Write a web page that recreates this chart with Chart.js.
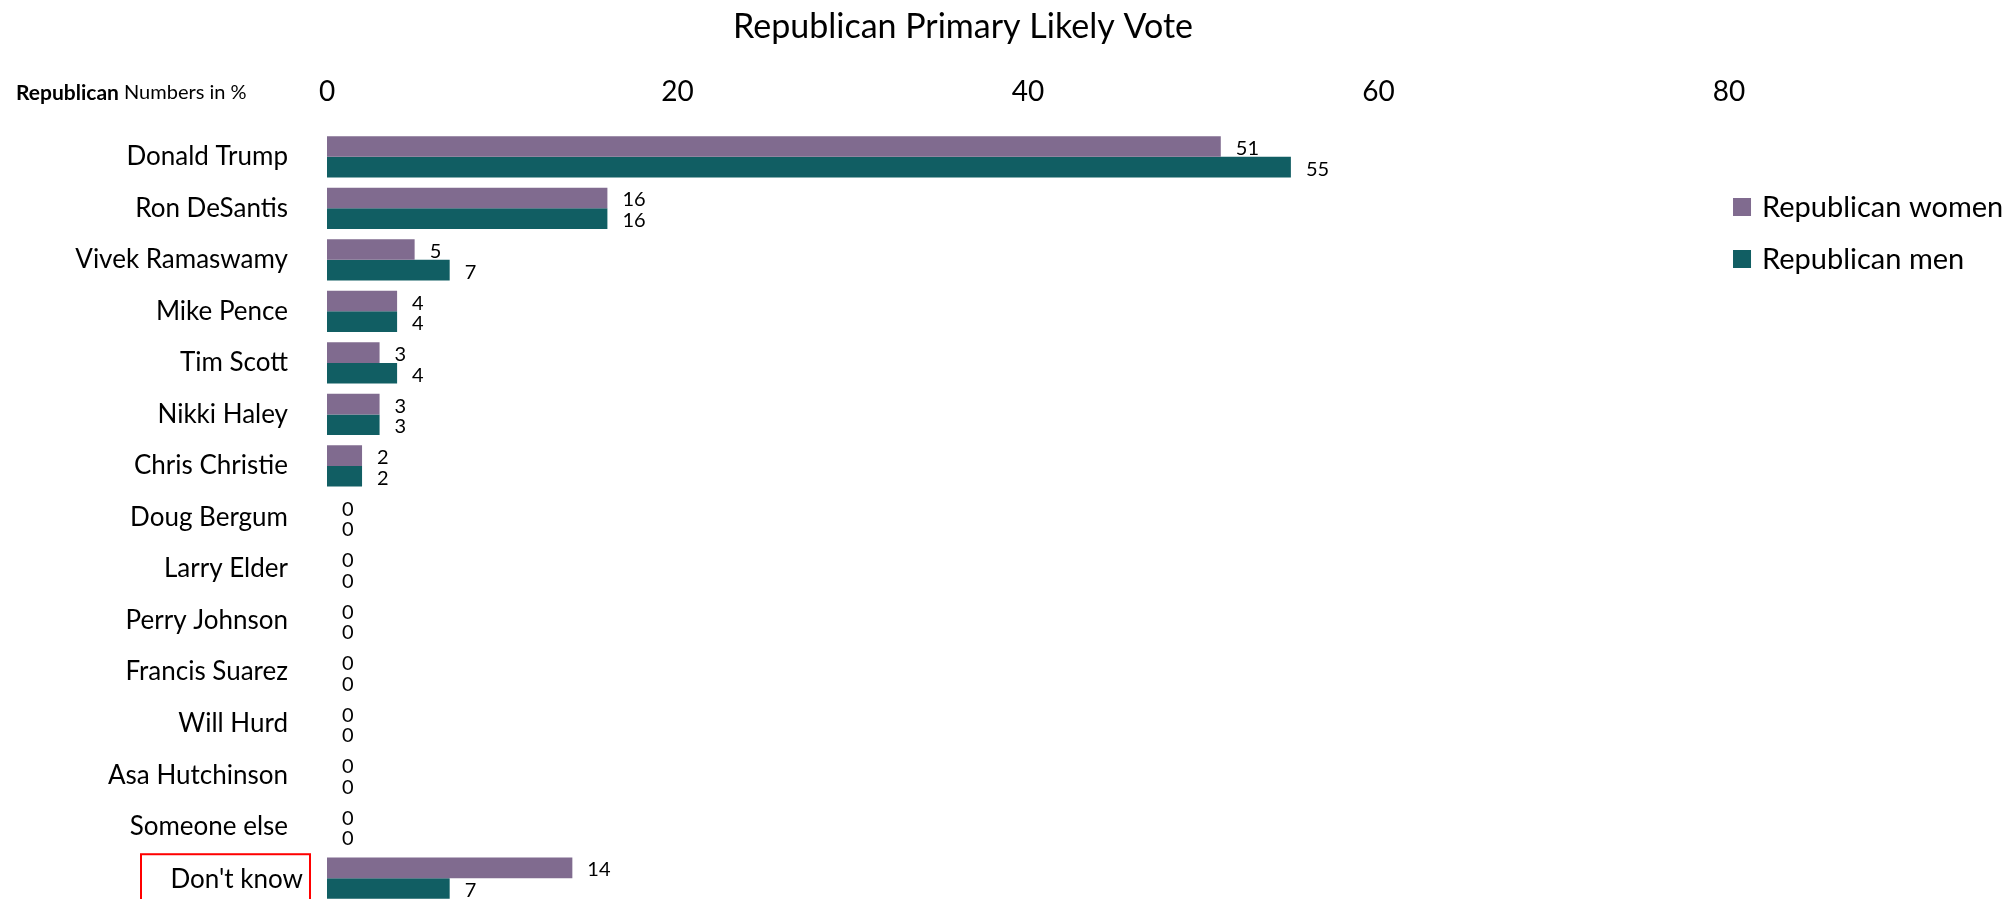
<!DOCTYPE html>
<html>
<head>
<meta charset="utf-8">
<script src="https://cdn.jsdelivr.net/npm/chart.js@4.4.0/dist/chart.umd.min.js"></script>
<style>
  html, body { margin: 0; padding: 0; background: #ffffff; overflow: hidden; }
  #wrap { width: 2014px; height: 904px; }
</style>
</head>
<body>
<div id="wrap"><canvas id="c" width="2014" height="904"></canvas></div>
<script>
const chartTitle = 'Republican Primary Likely Vote';
const categories = ['Donald Trump', 'Ron DeSantis', 'Vivek Ramaswamy', 'Mike Pence', 'Tim Scott', 'Nikki Haley', 'Chris Christie', 'Doug Bergum', 'Larry Elder', 'Perry Johnson', 'Francis Suarez', 'Will Hurd', 'Asa Hutchinson', 'Someone else', "Don't know"];
const seriesNames = ['Republican women', 'Republican men'];
const womenValues = [51, 16, 5, 4, 3, 3, 2, 0, 0, 0, 0, 0, 0, 0, 14];
const menValues = [55, 16, 7, 4, 4, 3, 2, 0, 0, 0, 0, 0, 0, 0, 7];
const xTicks = [0, 20, 40, 60, 80];
const highlighted = "Don't know";
const cornerBold = 'Republican';
const cornerRest = ' Numbers in %';

const colors = ['#806b8f', '#115e63'];
const FONT = 'Lato, Carlito, Calibri, "Noto Sans", sans-serif';
const lastTick = xTicks[xTicks.length - 1];

const extras = {
  id: 'extras',
  afterDatasetsDraw(chart) {
    const ctx = chart.ctx;
    ctx.save();
    // value labels
    ctx.font = '20px ' + FONT;
    ctx.fillStyle = '#000';
    ctx.textAlign = 'left';
    ctx.textBaseline = 'middle';
    chart.data.datasets.forEach((ds, di) => {
      const meta = chart.getDatasetMeta(di);
      meta.data.forEach((el, i) => {
        ctx.fillText(String(ds.data[i]), el.x + 15, el.y + 2);
      });
    });
    const ca = chart.chartArea;
    // corner label
    ctx.font = 'bold 21px ' + FONT;
    ctx.fillText(cornerBold, 16, 93);
    const w = ctx.measureText(cornerBold).width;
    ctx.font = '20px ' + FONT;
    ctx.fillText(cornerRest, 16 + w, 93);
    // highlighted category label + box
    const yScale = chart.scales.y;
    const idx = categories.indexOf(highlighted);
    const yc = yScale.getPixelForValue(idx);
    ctx.font = '26px ' + FONT;
    ctx.textAlign = 'right';
    ctx.fillText(highlighted, ca.left - 24, yc + 1);
    ctx.strokeStyle = '#ff0000';
    ctx.lineWidth = 2;
    ctx.strokeRect(ca.left - 186, yc - 24, 169, 80);
    // legend
    const xEnd = chart.scales.x.getPixelForValue(lastTick);
    ctx.textAlign = 'left';
    ctx.font = '29px ' + FONT;
    const ly = [207, 259];
    seriesNames.forEach((n, i) => {
      ctx.fillStyle = colors[i];
      ctx.fillRect(xEnd + 4, ly[i] - 9, 18, 18);
      ctx.fillStyle = '#000';
      ctx.fillText(n, xEnd + 33, ly[i] + 1);
    });
    ctx.restore();
  }
};

new Chart(document.getElementById('c'), {
  type: 'bar',
  data: {
    labels: categories,
    datasets: [
      { label: seriesNames[0], data: womenValues, backgroundColor: colors[0], borderWidth: 0, categoryPercentage: 0.8, barPercentage: 1.0 },
      { label: seriesNames[1], data: menValues, backgroundColor: colors[1], borderWidth: 0, categoryPercentage: 0.8, barPercentage: 1.0 }
    ]
  },
  options: {
    indexAxis: 'y',
    responsive: false,
    animation: false,
    layout: { padding: { left: 0, top: 0, bottom: 0, right: 88 } },
    plugins: {
      legend: { display: false },
      tooltip: { enabled: false },
      title: {
        display: true,
        text: chartTitle,
        color: '#000',
        font: { family: FONT, size: 34, weight: 'normal' },
        padding: { top: 7, bottom: 0 }
      }
    },
    scales: {
      x: {
        position: 'top',
        min: 0,
        max: 91.24,
        afterBuildTicks(scale) { scale.ticks = xTicks.map(v => ({ value: v })); },
        grid: { display: false, drawTicks: false },
        border: { display: false },
        ticks: { color: '#000', font: { family: FONT, size: 28 }, padding: 22, maxRotation: 0 },
        afterFit(scale) { scale.height = 131 - 47.8; scale.paddingLeft = 0; scale.paddingRight = 0; }
      },
      y: {
        grid: { display: false, drawTicks: false },
        border: { display: false },
        ticks: {
          color: '#000',
          font: { family: FONT, size: 26 },
          padding: 39,
          autoSkip: false,
          callback(v) { const l = categories[v]; return l === highlighted ? '' : l; }
        },
        afterFit(scale) { scale.width = 327; scale.paddingTop = 0; scale.paddingBottom = 0; }
      }
    }
  },
  plugins: [extras]
});
</script>
</body>
</html>
